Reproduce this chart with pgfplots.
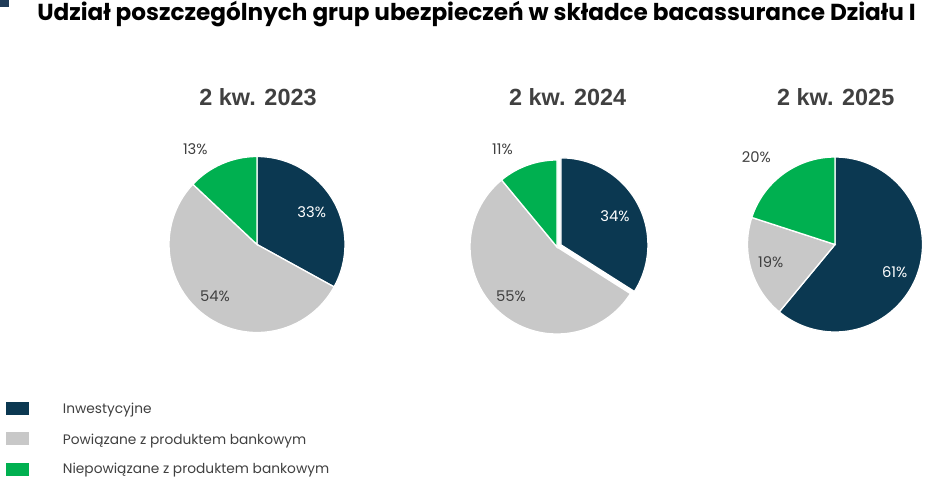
\documentclass[border=0pt]{standalone}
\usepackage{fontspec}
\usepackage{pgfplots}
\usepackage{pgfplotstable}
\pgfplotsset{compat=1.18}
\setmainfont{Liberation Sans}
\newfontfamily\gothic{Poppins}

\definecolor{cinv}{HTML}{0B3851}
\definecolor{cpow}{HTML}{C8C8C8}
\definecolor{cniep}{HTML}{00B050}
\definecolor{ctxt}{HTML}{404040}
\definecolor{csq}{HTML}{1F3B57}

\pgfplotstableread{
year inv pow niep
2023 33 54 13
2024 34 55 11
2025 61 19 20
}\piedata

\newcommand\pieangles[2]{%
  \pgfplotstablegetelem{#1}{inv}\of\piedata
  \pgfmathsetmacro\tmpA{90-3.6*\pgfplotsretval}%
  \expandafter\let\csname #2a\endcsname\tmpA
  \pgfplotstablegetelem{#1}{pow}\of\piedata
  \pgfmathsetmacro\tmpB{\tmpA-3.6*\pgfplotsretval}%
  \expandafter\let\csname #2b\endcsname\tmpB
  \pgfmathsetmacro\tmpM{(90+\tmpA)/2}%
  \expandafter\let\csname #2m\endcsname\tmpM
}
\pieangles{0}{PA}
\pieangles{1}{PB}
\pieangles{2}{PC}

% slice: cx, cy, r, start, end, colour, offset
\newcommand\slice[7]{%
  \addplot[fill=#6, draw=white, line width=1.3bp] coordinates {(#1,#2)}
    ++(#7) -- ++(#4:#3) arc[start angle=#4, end angle=#5, radius=#3] -- cycle;
}

\begin{document}
\begin{tikzpicture}
\tikzset{lab/.style={anchor=base, inner sep=0pt, font=\gothic\fontsize{14.8}{17}\selectfont, text=ctxt},
  leg/.style={anchor=base west, inner sep=0pt, font=\gothic\fontsize{13.8}{16}\selectfont, text=ctxt},
  ptit/.style={anchor=base, inner sep=0pt, font=\bfseries\fontsize{23.5}{28}\selectfont, text=ctxt}}
\begin{axis}[
  at={(0,0)}, anchor=south west,
  width=948bp, height=492bp, scale only axis,
  xmin=0, xmax=948, ymin=0, ymax=492, y dir=reverse,
  hide axis, clip=false,
]
% pie 2023
\slice{257}{244.5}{88bp}{90}{\PAa}{cinv}{0,0}
\slice{257}{244.5}{88bp}{\PAa}{\PAb}{cpow}{0,0}
\slice{257}{244.5}{88bp}{\PAb}{-270}{cniep}{0,0}
% pie 2024
\slice{557}{247}{87bp}{90}{\PBa}{cinv}{\PBm:4.5bp}
\slice{557}{247}{87bp}{\PBa}{\PBb}{cpow}{0,0}
\slice{557}{247}{87bp}{\PBb}{-270}{cniep}{0,0}
% pie 2025
\slice{835}{244.5}{87.5bp}{90}{\PCa}{cinv}{0,0}
\slice{835}{244.5}{87.5bp}{\PCa}{\PCb}{cpow}{0,0}
\slice{835}{244.5}{87.5bp}{\PCb}{-270}{cniep}{0,0}

% top-left square
\fill[csq] (axis cs:0,0) rectangle (axis cs:9,7);
% main title
\node[anchor=base, inner sep=0pt, font=\gothic\bfseries\fontsize{23.25}{27}\selectfont, text=black]
  at (axis cs:476.5,20.7) {Udział poszczególnych grup ubezpieczeń w składce bacassurance Działu I};
% pie titles
\node[ptit] at (axis cs:258,105) {2 kw. 2023};
\node[ptit] at (axis cs:567.7,105) {2 kw. 2024};
\node[ptit] at (axis cs:835.7,105) {2 kw. 2025};
% labels
\node[lab, text=white] at (axis cs:311.7,217.7) {33\%};
\node[lab] at (axis cs:215,301) {54\%};
\node[lab] at (axis cs:195.3,154) {13\%};
\node[lab, text=white] at (axis cs:615,221.7) {34\%};
\node[lab] at (axis cs:511,301) {55\%};
\node[lab] at (axis cs:502.5,154) {11\%};
\node[lab] at (axis cs:756.3,162.7) {20\%};
\node[lab] at (axis cs:770.7,267.7) {19\%};
\node[lab, text=white] at (axis cs:894.7,277.7) {61\%};
% legend
\fill[cinv] (axis cs:6,402) rectangle (axis cs:29,415);
\fill[cpow] (axis cs:6,432) rectangle (axis cs:29,445);
\fill[cniep] (axis cs:6,463) rectangle (axis cs:29,476);
\node[leg] at (axis cs:62.7,413.3) {Inwestycyjne};
\node[leg] at (axis cs:62.7,444) {Powiązane z produktem bankowym};
\node[leg] at (axis cs:62.7,473) {Niepowiązane z produktem bankowym};
\end{axis}
\pgfresetboundingbox
\path (0,0) rectangle (948bp,492bp);
\end{tikzpicture}
\end{document}
